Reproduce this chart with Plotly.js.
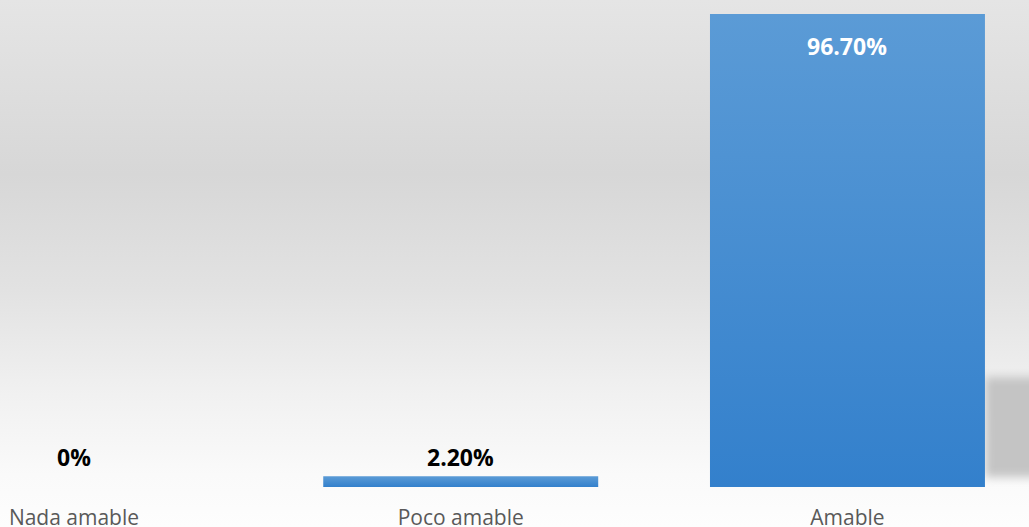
<!DOCTYPE html>
<html>
<head>
<meta charset="utf-8">
<script src="https://cdn.plot.ly/plotly-3.0.1.min.js"></script>
<style>
html,body{margin:0;padding:0;}
#chart{width:1029px;height:527px;background:linear-gradient(to bottom,#e5e5e5 0%,#d7d7d7 33%,#e2e2e2 55%,#f1f1f1 75%,#fafafa 90%,#fdfdfd 100%);}
</style>
</head>
<body>
<div id="chart"></div>
<script>
const categories = ['Nada amable', 'Poco amable', 'Amable'];
const values = [0, 2.2, 96.7];
const valueLabels = ['0%', '2.20%', '96.70%'];

const trace = {
  type: 'bar',
  x: [0, 1, 2],
  y: values,
  width: 0.711,
  marker: {color: '#4a8fd3', line: {width: 0}},
  hoverinfo: 'none'
};

const annotations = values.map((v, i) => {
  const inside = v > 50;
  return {
    x: i, y: v, xref: 'x', yref: 'y',
    text: '<b>' + valueLabels[i] + '</b>',
    showarrow: false,
    yanchor: inside ? 'top' : 'bottom',
    yshift: inside ? -14 : (v === 0 ? 12 : 1),
    font: {family: 'Open Sans, sans-serif', size: 23, color: inside ? '#ffffff' : '#000000'}
  };
});

const layout = {
  width: 1029, height: 527,
  margin: {l: 0, r: 0, t: 0, b: 40, pad: 0},
  paper_bgcolor: 'rgba(0,0,0,0)',
  plot_bgcolor: 'rgba(0,0,0,0)',
  showlegend: false,
  xaxis: {
    range: [-0.1913, 2.4694],
    tickmode: 'array', tickvals: [0, 1, 2], ticktext: categories,
    ticks: 'outside', ticklen: 12, tickcolor: 'rgba(0,0,0,0)',
    tickfont: {family: 'Open Sans, sans-serif', size: 21, color: '#595959'},
    showgrid: false, zeroline: false, showline: false, fixedrange: true
  },
  yaxis: {
    range: [0, 99.57], visible: false, showgrid: false, zeroline: false, fixedrange: true
  },
  shapes: [{
    type: 'rect', xref: 'x', yref: 'y', layer: 'below',
    x0: 2.3555, x1: 2.6, y0: 2, y1: 22.5,
    fillcolor: '#c4c4c4', line: {width: 0}
  }],
  annotations: annotations
};

Plotly.newPlot('chart', [trace], layout, {displayModeBar: false, staticPlot: true}).then(gd => {
  const svg = gd.querySelector('svg.main-svg');
  const ns = 'http://www.w3.org/2000/svg';
  const defs = document.createElementNS(ns, 'defs');
  defs.innerHTML = '<linearGradient id="barGrad" x1="0" y1="0" x2="0" y2="1">' +
    '<stop offset="0" stop-color="#5b9bd6"/><stop offset="1" stop-color="#3380cc"/></linearGradient>' +
    '<filter id="shBlur" x="-50%" y="-50%" width="200%" height="200%"><feGaussianBlur stdDeviation="5"/></filter>';
  svg.insertBefore(defs, svg.firstChild);
  gd.querySelectorAll('.bars .point path').forEach(p => { p.style.fill = 'url(#barGrad)'; });
  gd.querySelectorAll('.shapelayer path').forEach(p => { p.setAttribute('filter', 'url(#shBlur)'); });
});
</script>
</body>
</html>
